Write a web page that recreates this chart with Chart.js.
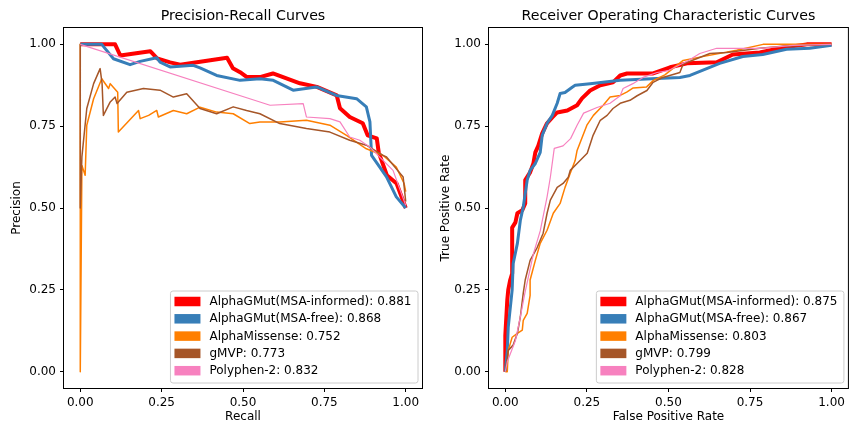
<!DOCTYPE html>
<html>
<head>
<meta charset="utf-8">
<script src="https://cdn.jsdelivr.net/npm/chart.js@4.4.1/dist/chart.umd.min.js"></script>
<style>
  html, body { margin: 0; padding: 0; background: #fff; }
  #wrap { position: relative; width: 849px; height: 424px; }
  canvas { position: absolute; top: 0; }
</style>
</head>
<body>
<div id="wrap">
  <canvas id="pr" width="430" height="424" style="left:0"></canvas>
  <canvas id="roc" width="419" height="424" style="left:430px"></canvas>
</div>
<script>
const modelNames = ['AlphaGMut(MSA-informed)', 'AlphaGMut(MSA-free)', 'AlphaMissense', 'gMVP', 'Polyphen-2'];
const prAuc = [0.881, 0.868, 0.752, 0.773, 0.832];
const rocAuc = [0.875, 0.867, 0.803, 0.799, 0.828];
const axisTicks = [0, 0.25, 0.5, 0.75, 1];

// precision-recall points: [recall, precision]
const prMsaInformed = [[0,1],[0.107,1],[0.123,0.966],[0.215,0.979],[0.236,0.957],[0.276,0.945],[0.307,0.938],[0.451,0.959],[0.469,0.927],[0.491,0.915],[0.512,0.9],[0.552,0.9],[0.592,0.911],[0.675,0.881],[0.727,0.87],[0.788,0.844],[0.798,0.805],[0.828,0.778],[0.868,0.759],[0.883,0.722],[0.911,0.713],[0.917,0.67],[0.942,0.6],[0.972,0.575],[1,0.5]];
const prMsaFree = [[0,1],[0.066,1],[0.102,0.956],[0.153,0.938],[0.184,0.948],[0.235,0.959],[0.245,0.946],[0.276,0.931],[0.347,0.936],[0.368,0.928],[0.419,0.905],[0.491,0.89],[0.552,0.895],[0.593,0.89],[0.654,0.86],[0.726,0.87],[0.787,0.844],[0.849,0.834],[0.879,0.809],[0.89,0.763],[0.895,0.661],[0.941,0.595],[0.971,0.534],[1,0.5]];
const prAlphaMissense = [[0,1],[0,0],[0.005,0.63],[0.015,0.6],[0.02,0.753],[0.041,0.834],[0.066,0.895],[0.087,0.865],[0.092,0.88],[0.115,0.854],[0.117,0.732],[0.179,0.798],[0.184,0.773],[0.21,0.783],[0.235,0.798],[0.24,0.778],[0.286,0.798],[0.327,0.788],[0.368,0.808],[0.419,0.793],[0.47,0.788],[0.521,0.758],[0.552,0.763],[0.613,0.763],[0.695,0.768],[0.767,0.753],[0.818,0.722],[0.879,0.681],[0.93,0.661],[0.971,0.625],[0.995,0.575],[1,0.55]];
const prGmvp = [[0,1],[0,0.5],[0.005,0.656],[0.02,0.804],[0.041,0.88],[0.061,0.926],[0.067,0.88],[0.071,0.783],[0.092,0.824],[0.107,0.839],[0.113,0.819],[0.143,0.854],[0.194,0.865],[0.245,0.86],[0.286,0.839],[0.327,0.849],[0.368,0.804],[0.419,0.788],[0.47,0.809],[0.511,0.798],[0.552,0.788],[0.613,0.758],[0.695,0.743],[0.767,0.732],[0.828,0.707],[0.879,0.692],[0.93,0.661],[0.941,0.656],[0.992,0.595],[1,0.52]];
const prPolyphen = [[0,1],[0.552,0.824],[0.583,0.814],[0.685,0.819],[0.695,0.778],[0.767,0.773],[0.798,0.763],[0.828,0.717],[0.859,0.707],[0.89,0.686],[0.961,0.615],[1,0.508]];

// ROC points: [false positive rate, true positive rate]
const rocMsaInformed = [[0,0],[0,0.11],[0.006,0.218],[0.009,0.25],[0.015,0.28],[0.021,0.3],[0.021,0.44],[0.031,0.456],[0.037,0.484],[0.052,0.493],[0.061,0.514],[0.061,0.585],[0.076,0.609],[0.086,0.636],[0.092,0.67],[0.101,0.69],[0.113,0.728],[0.128,0.759],[0.144,0.777],[0.159,0.792],[0.19,0.798],[0.22,0.814],[0.235,0.835],[0.26,0.859],[0.291,0.875],[0.33,0.884],[0.352,0.905],[0.373,0.911],[0.453,0.911],[0.505,0.93],[0.557,0.942],[0.648,0.945],[0.697,0.969],[0.78,0.975],[0.85,0.99],[0.924,1],[1,1]];
const rocMsaFree = [[0,0],[0.006,0.065],[0.009,0.136],[0.021,0.25],[0.024,0.33],[0.037,0.392],[0.046,0.462],[0.055,0.503],[0.067,0.585],[0.076,0.615],[0.092,0.636],[0.107,0.67],[0.113,0.722],[0.128,0.759],[0.144,0.783],[0.159,0.82],[0.168,0.85],[0.183,0.853],[0.205,0.869],[0.214,0.875],[0.26,0.88],[0.352,0.89],[0.465,0.896],[0.535,0.899],[0.566,0.905],[0.657,0.942],[0.728,0.963],[0.789,0.969],[0.862,0.985],[0.933,0.988],[1,0.997]];
const rocAlphaMissense = [[0,0],[0.006,0],[0.009,0.065],[0.021,0.105],[0.037,0.117],[0.052,0.127],[0.055,0.157],[0.067,0.178],[0.076,0.233],[0.076,0.28],[0.092,0.34],[0.107,0.392],[0.128,0.432],[0.147,0.484],[0.168,0.514],[0.183,0.563],[0.199,0.606],[0.214,0.645],[0.22,0.676],[0.25,0.753],[0.27,0.783],[0.3,0.814],[0.321,0.839],[0.352,0.844],[0.372,0.854],[0.392,0.867],[0.433,0.87],[0.454,0.89],[0.489,0.907],[0.545,0.951],[0.596,0.961],[0.709,0.982],[0.79,1],[1,1]];
const rocGmvp = [[0,0],[0.009,0.065],[0.024,0.081],[0.037,0.117],[0.046,0.167],[0.055,0.24],[0.061,0.28],[0.076,0.34],[0.098,0.38],[0.116,0.423],[0.128,0.484],[0.138,0.524],[0.159,0.563],[0.177,0.575],[0.193,0.594],[0.199,0.615],[0.22,0.636],[0.251,0.667],[0.269,0.722],[0.291,0.768],[0.312,0.783],[0.33,0.804],[0.352,0.82],[0.382,0.829],[0.404,0.843],[0.434,0.859],[0.453,0.884],[0.483,0.899],[0.535,0.914],[0.545,0.94],[0.627,0.972],[0.679,0.975],[0.78,0.988],[0.85,0.994],[1,1]];
const rocPolyphen = [[0,0],[0.006,0.03],[0.031,0.095],[0.046,0.167],[0.06,0.24],[0.086,0.36],[0.107,0.43],[0.128,0.534],[0.138,0.594],[0.147,0.66],[0.15,0.682],[0.177,0.69],[0.2,0.712],[0.22,0.753],[0.24,0.79],[0.281,0.807],[0.321,0.82],[0.352,0.843],[0.361,0.865],[0.391,0.88],[0.422,0.899],[0.465,0.914],[0.5,0.92],[0.56,0.95],[0.596,0.972],[0.648,0.988],[0.78,0.988],[0.881,0.997],[1,1]];

const colors = ['#ff0000', '#377eb8', '#ff7f00', '#a65628', '#f781bf'];
const widths = [4, 3, 1.5, 1.5, 1.2];
const FONT = "'DejaVu Sans', sans-serif";
Chart.defaults.font.family = FONT;
Chart.defaults.color = '#000';

// frame, title and matplotlib-like legend
const decor = {
  id: 'decor',
  afterDatasetsDraw(chart) {
    const a = chart.chartArea, ctx = chart.ctx;
    ctx.save();
    ctx.strokeStyle = '#000';
    ctx.lineWidth = 1;
    ctx.strokeRect(a.left - 0.5, a.top - 0.5, a.right - a.left + 1, a.bottom - a.top + 1);
    ctx.restore();
  },
  afterDraw(chart, args, opts) {
    const a = chart.chartArea, ctx = chart.ctx;
    ctx.save();
    ctx.fillStyle = '#000';
    ctx.font = '14.2px ' + FONT;
    ctx.textAlign = 'center';
    ctx.textBaseline = 'alphabetic';
    ctx.fillText(opts.title, (a.left + a.right) / 2, 20);

    ctx.font = '12px ' + FONT;
    const labels = chart.data.datasets.map(d => d.label);
    const textW = Math.max(...labels.map(l => ctx.measureText(l).width));
    const right = a.right - 4.5, bottom = a.bottom - 5.5;
    const left = right - (4.5 + 26 + 9 + textW + 6);
    const top = bottom - 92;
    ctx.beginPath();
    ctx.roundRect(left + 0.5, top + 0.5, right - left, bottom - top, 2.5);
    ctx.fillStyle = 'rgba(255,255,255,0.8)';
    ctx.fill();
    ctx.strokeStyle = '#cccccc';
    ctx.lineWidth = 1;
    ctx.stroke();
    ctx.textAlign = 'left';
    ctx.textBaseline = 'middle';
    labels.forEach((l, i) => {
      const cy = top + 11 + i * 17.3;
      ctx.fillStyle = chart.data.datasets[i].borderColor;
      ctx.fillRect(left + 4.5, cy - 4.75, 26, 9.5);
      ctx.fillStyle = '#000';
      ctx.fillText(l, left + 39.5, cy + 0.5);
    });
    ctx.restore();
  }
};

function axis(label, fitFn, titlePad) {
  return {
    type: 'linear',
    min: -0.05,
    max: 1.05,
    afterBuildTicks: s => { s.ticks = axisTicks.map(v => ({ value: v })); },
    afterFit: fitFn,
    grid: { drawOnChartArea: false, drawTicks: true, tickLength: 4, color: '#000', lineWidth: 1 },
    border: { display: false },
    ticks: { font: { size: 12 }, color: '#000', padding: 4, maxRotation: 0, autoSkip: false,
             callback: v => v.toFixed(2) },
    title: { display: true, text: label, font: { size: 12 }, color: '#000', padding: titlePad }
  };
}

function makeChart(id, curves, aucs, cfg) {
  new Chart(document.getElementById(id), {
    type: 'line',
    data: {
      datasets: curves.map((pts, i) => ({
        label: modelNames[i] + ': ' + aucs[i].toFixed(3),
        data: pts.map(p => ({ x: p[0], y: p[1] })),
        borderColor: colors[i],
        backgroundColor: colors[i],
        borderWidth: widths[i],
        pointRadius: 0,
        tension: 0,
        fill: false,
        borderJoinStyle: 'round',
        order: 5 - i
      }))
    },
    options: {
      responsive: false,
      animation: false,
      layout: { padding: { top: 28, right: cfg.padRight, bottom: 0, left: 0 } },
      plugins: { legend: { display: false }, tooltip: { enabled: false }, decor: { title: cfg.title } },
      scales: {
        x: axis(cfg.xLabel, s => { s.height = 36; }, { top: 0, bottom: 0 }),
        y: axis(cfg.yLabel, s => { s.width = cfg.yWidth; }, { top: cfg.yTitlePad, bottom: 0 })
      }
    },
    plugins: [decor]
  });
}

makeChart('pr', [prMsaInformed, prMsaFree, prAlphaMissense, prGmvp, prPolyphen], prAuc,
  { title: 'Precision-Recall Curves', xLabel: 'Recall', yLabel: 'Precision', padRight: 8, yWidth: 64, yTitlePad: 10 });
makeChart('roc', [rocMsaInformed, rocMsaFree, rocAlphaMissense, rocGmvp, rocPolyphen], rocAuc,
  { title: 'Receiver Operating Characteristic Curves', xLabel: 'False Positive Rate', yLabel: 'True Positive Rate', padRight: 1, yWidth: 59, yTitlePad: 9 });
</script>
</body>
</html>
